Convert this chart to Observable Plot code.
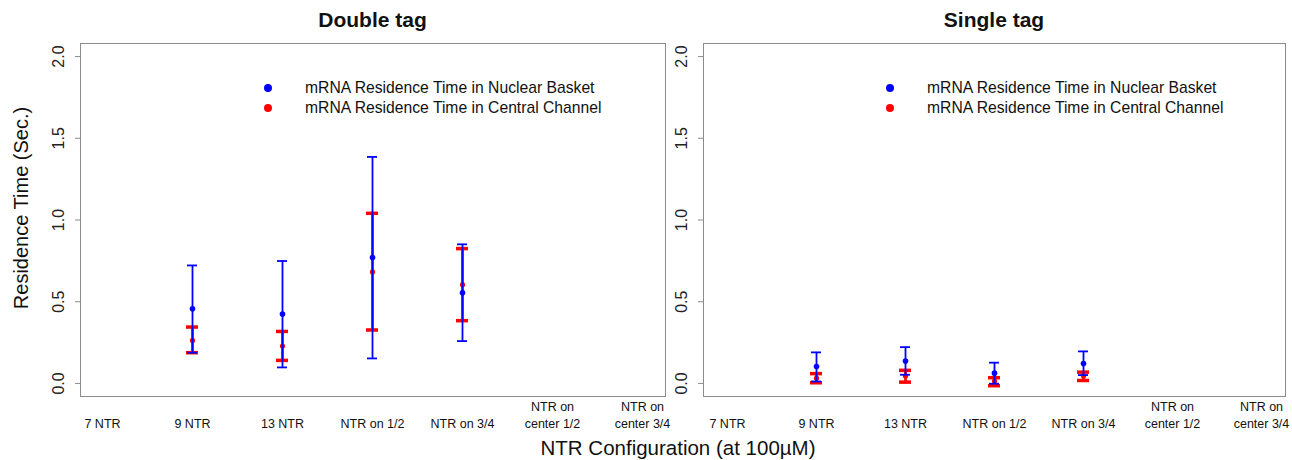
<!DOCTYPE html>
<html>
<head>
<meta charset="utf-8">
<script src="https://cdn.jsdelivr.net/npm/d3@7"></script>
<script src="https://cdn.jsdelivr.net/npm/@observablehq/plot@0.6"></script>
<style>
  html, body { margin: 0; padding: 0; background: #fff; }
  #wrap { position: relative; width: 1292px; height: 460px; overflow: hidden; font-family: "Liberation Sans", Arial, sans-serif; color: #111; }
  .lbl { position: absolute; white-space: nowrap; transform: translate(-50%, -50%); line-height: 1.1; }
  .leg { position: absolute; font-size: 15.7px; white-space: nowrap; }
  .leg div { height: 20px; line-height: 20px; position: relative; }
  .leg span.dot { position: absolute; left: -41px; top: 6px; width: 8px; height: 8px; border-radius: 50%; }
</style>
</head>
<body>
<div id="wrap"></div>
<script>
// ---- data ----
const categories = ["7 NTR", "9 NTR", "13 NTR", "NTR on 1/2", "NTR on 3/4", "NTR on\ncenter 1/2", "NTR on\ncenter 3/4"];
const measured = ["9 NTR", "13 NTR", "NTR on 1/2", "NTR on 3/4"];
const yTicks = [0, 0.5, 1.0, 1.5, 2.0];

// Double tag
const doubleBasketMean = [0.457, 0.425, 0.770, 0.555];
const doubleBasketLow  = [0.188, 0.098, 0.153, 0.259];
const doubleBasketHigh = [0.722, 0.749, 1.386, 0.851];
const doubleChannelMean = [0.263, 0.229, 0.682, 0.604];
const doubleChannelLow  = [0.188, 0.141, 0.327, 0.384];
const doubleChannelHigh = [0.345, 0.318, 1.041, 0.825];

// Single tag
const singleBasketMean = [0.104, 0.137, 0.063, 0.122];
const singleBasketLow  = [0.012, 0.053, -0.002, 0.051];
const singleBasketHigh = [0.190, 0.222, 0.127, 0.196];
const singleChannelMean = [0.032, 0.045, 0.014, 0.045];
const singleChannelLow  = [0.004, 0.008, -0.014, 0.018];
const singleChannelHigh = [0.060, 0.080, 0.035, 0.069];

const seriesNames = ["mRNA Residence Time in Nuclear Basket", "mRNA Residence Time in Central Channel"];
const BLUE = "#0000ff", RED = "#ff0000", AXIS = "#8c8c8c";
const FONT = "'Liberation Sans', Arial, sans-serif";

function rows(mean, low, high) {
  return measured.map((c, i) => ({cat: c, mean: mean[i], low: low[i], high: high[i]}));
}

function panel({width, marginLeft, marginRight, basket, channel}) {
  return Plot.plot({
    width, height: 460,
    marginTop: 43, marginBottom: 64, marginLeft, marginRight,
    style: {fontFamily: FONT, background: "transparent", overflow: "visible", color: "#111"},
    x: {type: "band", domain: categories, paddingInner: 0.866, paddingOuter: 0.173, axis: null},
    y: {domain: [-0.08, 2.08], axis: null},
    marks: [
      Plot.frame({stroke: AXIS}),
      Plot.axisY({ticks: yTicks, tickSize: 5, tickFormat: () => "", stroke: AXIS, label: null, anchor: "left"}),
      Plot.text(yTicks, {y: d => d, text: d => d.toFixed(1), frameAnchor: "left", dx: -17, rotate: -90,
        textAnchor: "middle", lineAnchor: "bottom", fontSize: 16, fill: "#222"}),
      Plot.text(categories, {x: d => d, text: d => d, frameAnchor: "bottom", dy: 31, lineAnchor: "bottom",
        fontSize: 12.5, lineHeight: 1.33, fill: "#111"}),
      // central channel (red)
      Plot.ruleX(channel, {x: "cat", y1: "low", y2: "high", stroke: RED, strokeWidth: 2.6}),
      Plot.tickY(channel, {x: "cat", y: "low", stroke: RED, strokeWidth: 3.5}),
      Plot.tickY(channel, {x: "cat", y: "high", stroke: RED, strokeWidth: 3.5}),
      Plot.dot(channel, {x: "cat", y: "mean", r: 2.6, fill: RED, stroke: "none"}),
      // nuclear basket (blue)
      Plot.ruleX(basket, {x: "cat", y1: "low", y2: "high", stroke: BLUE, strokeWidth: 1.8}),
      Plot.tickY(basket, {x: "cat", y: "low", stroke: BLUE, strokeWidth: 1.8, insetLeft: 1, insetRight: 1}),
      Plot.tickY(basket, {x: "cat", y: "high", stroke: BLUE, strokeWidth: 1.8, insetLeft: 1, insetRight: 1}),
      Plot.dot(basket, {x: "cat", y: "mean", r: 2.8, fill: BLUE, stroke: "none"})
    ]
  });
}

const wrap = document.getElementById("wrap");

const left = panel({width: 670, marginLeft: 80, marginRight: 5,
  basket: rows(doubleBasketMean, doubleBasketLow, doubleBasketHigh),
  channel: rows(doubleChannelMean, doubleChannelLow, doubleChannelHigh)});
left.style.position = "absolute"; left.style.left = "0px"; left.style.top = "0px";
wrap.appendChild(left);

const right = panel({width: 622, marginLeft: 33, marginRight: 7,
  basket: rows(singleBasketMean, singleBasketLow, singleBasketHigh),
  channel: rows(singleChannelMean, singleChannelLow, singleChannelHigh)});
right.style.position = "absolute"; right.style.left = "670px"; right.style.top = "0px";
wrap.appendChild(right);

function addLabel(text, x, y, css) {
  const d = document.createElement("div");
  d.className = "lbl";
  d.textContent = text;
  d.style.left = x + "px"; d.style.top = y + "px";
  Object.assign(d.style, css || {});
  wrap.appendChild(d);
}
addLabel("Double tag", 372.5, 20, {fontSize: "21px", fontWeight: "bold"});
addLabel("Single tag", 994, 20, {fontSize: "21px", fontWeight: "bold"});
addLabel("NTR Configuration (at 100\u00b5M)", 678, 448, {fontSize: "20.5px"});
addLabel("Residence Time (Sec.)", 21, 208, {fontSize: "20px", transform: "translate(-50%, -50%) rotate(-90deg)"});

function addLegend(x, y) {
  const lg = document.createElement("div");
  lg.className = "leg";
  lg.style.left = x + "px"; lg.style.top = y + "px";
  [BLUE, RED].forEach((c, i) => {
    const row = document.createElement("div");
    const dot = document.createElement("span");
    dot.className = "dot"; dot.style.background = c;
    row.appendChild(dot);
    row.appendChild(document.createTextNode(seriesNames[i]));
    lg.appendChild(row);
  });
  wrap.appendChild(lg);
}
addLegend(305, 78);
addLegend(927, 78);
</script>
</body>
</html>
